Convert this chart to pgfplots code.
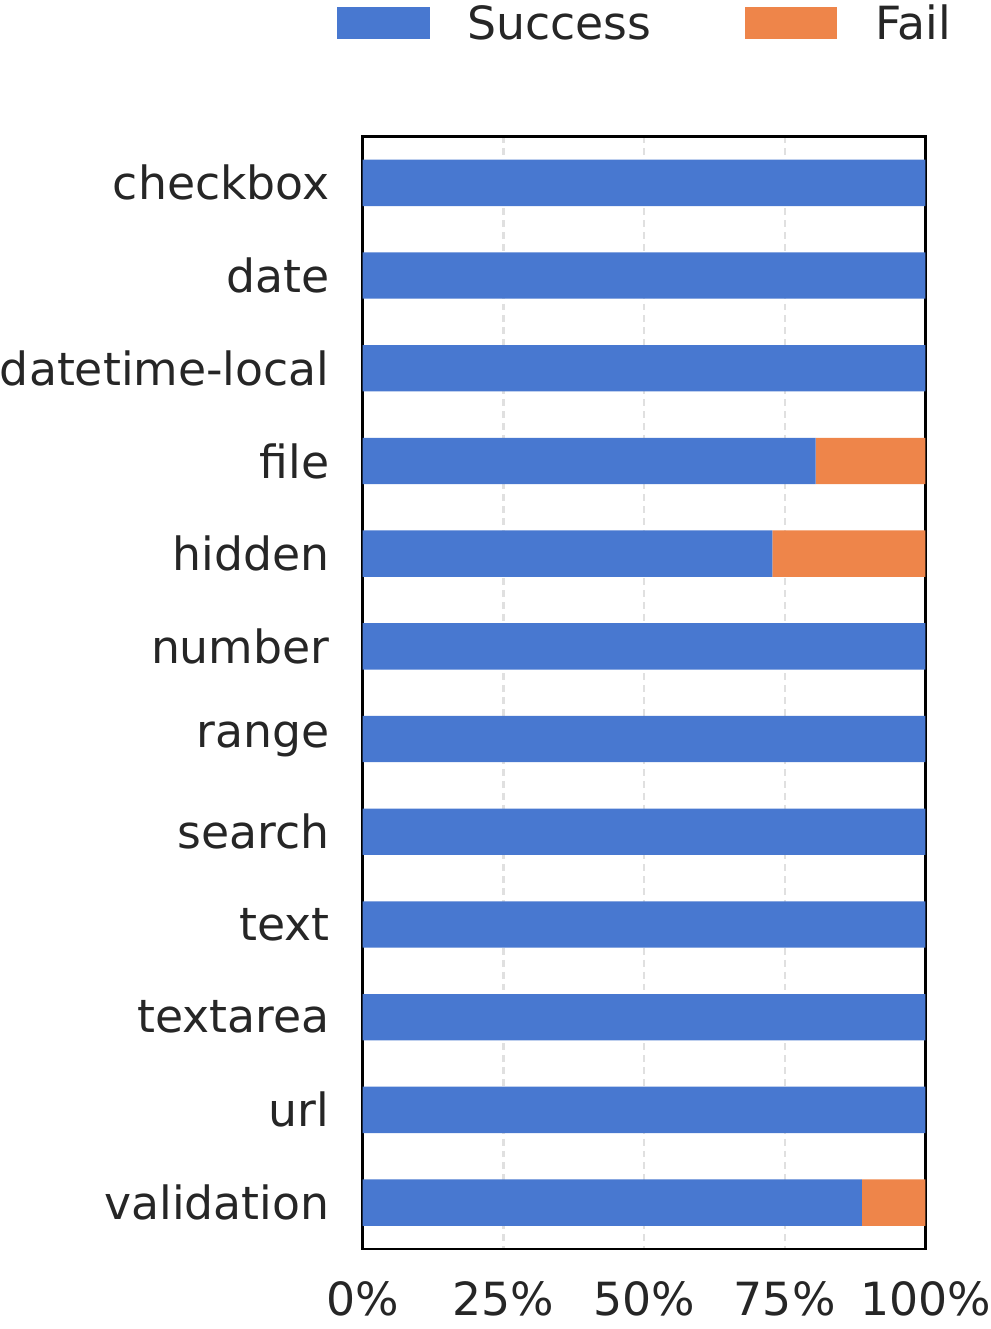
\documentclass[border=0pt]{standalone}
\usepackage{pgfplots}
\pgfplotsset{compat=1.18}
\usepackage{fontspec}
\setmainfont{DejaVu Sans}
\definecolor{sblue}{HTML}{4878D0}
\definecolor{sorange}{HTML}{EE854A}
\definecolor{txt}{HTML}{262626}
\definecolor{gridc}{HTML}{E0E0E0}

\begin{document}
\fontsize{23}{27}\selectfont
\begin{tikzpicture}
\begin{axis}[
    scale only axis,
    width=283pt, height=559.5pt,
    xbar stacked,
    bar width=0.5,
    xmin=0, xmax=100,
    ymin=-0.5, ymax=11.5,
    y dir=reverse,
    xtick={0,25,50,75,100},
    xticklabels={0\%,25\%,50\%,75\%,100\%},
    ytick={0,...,11},
    yticklabels={checkbox,date,datetime-local,file,hidden,number,range,search,text,textarea,url,validation},
    major tick length=0pt,
    xmajorgrids=true,
    grid style={gridc, line width=1.2pt, dash pattern=on 3.5pt off 2.5pt},
    axis line style={black, line width=1.2pt},
    tick label style={txt, inner sep=0pt, font=\fontsize{23}{27}\selectfont},
    yticklabel style={xshift=-16.5pt},
    xticklabel style={yshift=-16pt, text depth=7pt},
    legend columns=2,
    legend style={draw=none, inner sep=0pt, at={(0.5,1)}, anchor=south, yshift=45pt,
        font=\fontsize{23}{27}\selectfont, text=txt,
        nodes={inner sep=0pt, text height=20pt},
        /tikz/every odd column/.append style={column sep=19pt},
        /tikz/every even column/.append style={column sep=47pt}},
    legend image code/.code={\fill[#1,draw=none] (0pt,-8pt) rectangle (46.5pt,8pt);},
]
\addplot[fill=sblue, draw=none] coordinates {
    (100,0) (100,1) (100,2) (80.5,3) (72.8,4) (100,5)
    (100,6) (100,7) (100,8) (100,9) (100,10) (88.7,11)
};
\addplot[fill=sorange, draw=none] coordinates {
    (0,0) (0,1) (0,2) (19.5,3) (27.2,4) (0,5)
    (0,6) (0,7) (0,8) (0,9) (0,10) (11.3,11)
};
\legend{Success,Fail}
\end{axis}
\end{tikzpicture}
\end{document}
